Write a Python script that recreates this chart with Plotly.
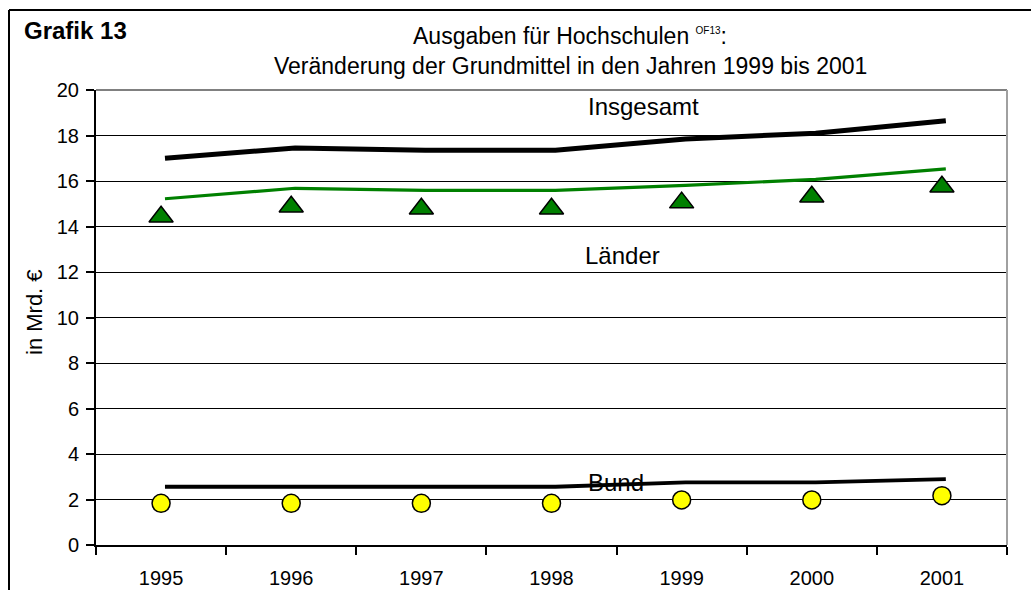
import plotly.graph_objects as go

years = ["1995", "1996", "1997", "1998", "1999", "2000", "2001"]
insgesamt_line = [17.0, 17.45, 17.35, 17.35, 17.85, 18.1, 18.65]
laender_line = [15.22, 15.68, 15.59, 15.59, 15.81, 16.07, 16.53]
laender_markers = [14.43, 14.87, 14.78, 14.78, 15.05, 15.31, 15.75]
bund_line = [2.56, 2.56, 2.56, 2.56, 2.75, 2.75, 2.9]
bund_markers = [1.83, 1.83, 1.83, 1.83, 1.98, 1.98, 2.17]
y_ticks = [0, 2, 4, 6, 8, 10, 12, 14, 16, 18, 20]

W, H = 1031, 590
L, R, T, B = 96, 1007, 90, 545


def px(x):
    return (x - L) / (R - L)


def py(y):
    return (B - y) / (B - T)


FONT = "Liberation Sans, Arial, sans-serif"
fig = go.Figure()

# lines (slightly offset axis like the original)
fig.add_trace(go.Scatter(x=years, y=insgesamt_line, xaxis="x2", mode="lines",
                         line=dict(color="black", width=5), name="Insgesamt"))
fig.add_trace(go.Scatter(x=years, y=laender_line, xaxis="x2", mode="lines",
                         line=dict(color="#008000", width=3.2), name="Länder"))
fig.add_trace(go.Scatter(x=years, y=bund_line, xaxis="x2", mode="lines",
                         line=dict(color="black", width=3.8), name="Bund"))
# markers
fig.add_trace(go.Scatter(x=years, y=laender_markers, mode="markers",
                         marker=dict(symbol="triangle-up", size=21, color="#008000",
                                     line=dict(color="black", width=1.5)),
                         name="Länder Grundmittel"))
fig.add_trace(go.Scatter(x=years, y=bund_markers, mode="markers",
                         marker=dict(symbol="circle", size=18, color="#FFFF00",
                                     line=dict(color="black", width=1.5)),
                         name="Bund Grundmittel"))

d = 0.03
fig.update_layout(
    width=W, height=H,
    margin=dict(l=L, r=W - R, t=T, b=H - B, autoexpand=False),
    paper_bgcolor="white", plot_bgcolor="white",
    showlegend=False,
    font=dict(family=FONT, color="black", size=20),
    xaxis=dict(type="category", categoryorder="array", categoryarray=years,
               range=[-0.5, 6.5], tickson="boundaries", ticks="outside",
               ticklen=8, tickwidth=1.5, tickcolor="black", showgrid=False,
               showline=True, linecolor="black", linewidth=1.5,
               tickfont=dict(size=20), zeroline=False, ticklabelstandoff=14,
               automargin=False),
    xaxis2=dict(type="category", categoryorder="array", categoryarray=years,
                overlaying="x", range=[-0.5 - d, 6.5 - d], visible=False),
    yaxis=dict(range=[0, 20], tickvals=y_ticks, ticks="outside", ticklen=8,
               tickwidth=1.5, tickcolor="black", showgrid=True,
               gridcolor="black", gridwidth=1.2, showline=True,
               linecolor="black", linewidth=2, zeroline=False,
               tickfont=dict(size=20), ticklabelstandoff=3, automargin=False),
)

shapes = [
    # grey plot-area border top & right
    dict(type="line", xref="paper", yref="paper", x0=0, x1=1, y0=1, y1=1,
         line=dict(color="#808080", width=2), layer="above"),
    dict(type="line", xref="paper", yref="paper", x0=1, x1=1, y0=0, y1=1,
         line=dict(color="#A0A0A0", width=2), layer="above"),
    # outer frame (left & top)
    dict(type="line", xref="paper", yref="paper", x0=px(9), x1=px(9),
         y0=py(10), y1=py(600), line=dict(color="black", width=2)),
    dict(type="line", xref="paper", yref="paper", x0=px(9), x1=px(1040),
         y0=py(10), y1=py(10), line=dict(color="black", width=2)),
]
fig.update_layout(shapes=shapes)

ann = [
    dict(text="<b>Grafik 13</b>", x=px(22), y=py(30), xanchor="left",
         yanchor="middle", font=dict(size=24)),
    dict(text="Ausgaben für Hochschulen <sup><span style='font-size:10px'>OF13</span></sup>:",
         x=px(570), y=py(36), xanchor="center", yanchor="middle",
         font=dict(size=23)),
    dict(text="Veränderung der Grundmittel in den Jahren 1999 bis 2001",
         x=px(570), y=py(66), xanchor="center", yanchor="middle",
         font=dict(size=23)),
    dict(text="in Mrd. €", x=px(34), y=py(312), textangle=-90,
         xanchor="center", yanchor="middle", font=dict(size=22)),
    dict(text="Insgesamt", x=px(643), y=py(107), xanchor="center",
         yanchor="middle", font=dict(size=24)),
    dict(text="Länder", x=px(622), y=py(255), xanchor="center",
         yanchor="middle", font=dict(size=24)),
    dict(text="Bund", x=px(616), y=py(482), xanchor="center",
         yanchor="middle", font=dict(size=24)),
]
for a in ann:
    a.update(xref="paper", yref="paper", showarrow=False)
fig.update_layout(annotations=ann)

fig.write_html("out.html", config={"displayModeBar": False},
               post_script="document.body.style.margin='0';document.body.style.overflow='hidden';")
